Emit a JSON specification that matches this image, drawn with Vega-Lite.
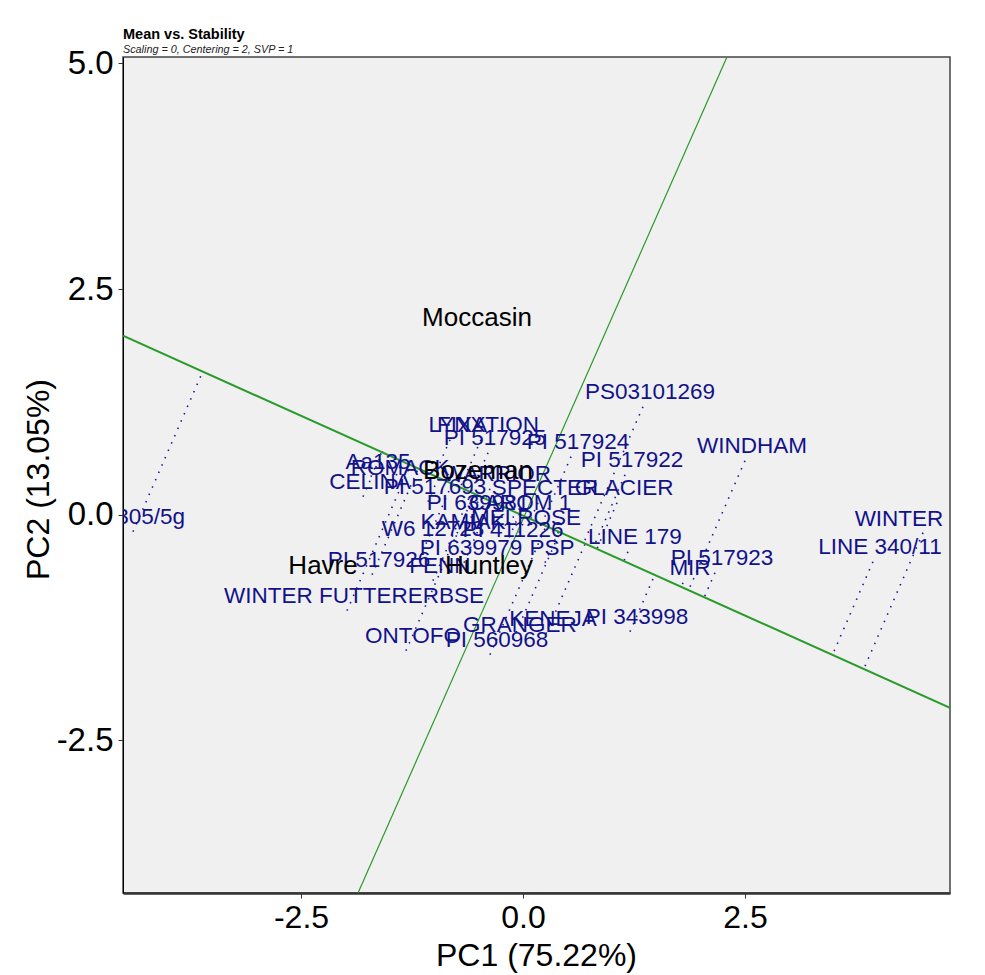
{
  "$schema": "https://vega.github.io/schema/vega-lite/v6.json",
  "autosize": {"type": "none"},
  "width": 827,
  "height": 836,
  "padding": {"left": 123, "top": 57, "right": 35, "bottom": 82},
  "background": "white",
  "title": {
    "text": "Mean vs. Stability",
    "subtitle": "Scaling = 0, Centering = 2, SVP = 1",
    "anchor": "start",
    "frame": "group",
    "font": "Liberation Sans",
    "fontSize": 14.5,
    "fontWeight": "bold",
    "color": "black",
    "subtitleFont": "Liberation Sans",
    "subtitleFontSize": 10.8,
    "subtitleFontStyle": "italic",
    "subtitleColor": "#222",
    "subtitlePadding": 1,
    "offset": -8
  },
  "config": {
    "view": {"fill": "#F0F0F0", "stroke": "#444", "strokeWidth": 1.5},
    "font": "Liberation Sans"
  },
  "datasets": {
    "genotypes": [
      {"name": "PS03101269", "x": 1.351, "y": 1.196, "xa": 0.687, "ya": -0.304},
      {"name": "WINDHAM", "x": 2.5, "y": 0.598, "xa": 1.869, "ya": -0.827},
      {"name": "PI 517922", "x": 1.149, "y": 0.443, "xa": 0.797, "ya": -0.353},
      {"name": "PI 517924", "x": 0.541, "y": 0.643, "xa": 0.214, "ya": -0.095},
      {"name": "GLACIER", "x": 1.059, "y": 0.133, "xa": 0.836, "ya": -0.37},
      {"name": "LINE 179", "x": 1.182, "y": -0.41, "xa": 1.14, "ya": -0.505},
      {"name": "PI 517923", "x": 2.162, "y": -0.643, "xa": 2.046, "ya": -0.905},
      {"name": "MIR", "x": 1.802, "y": -0.753, "xa": 1.786, "ya": -0.79},
      {"name": "WINTER", "x": 4.505, "y": -0.199, "xa": 3.842, "ya": -1.7},
      {"name": "LINE 340/11", "x": 3.941, "y": -0.521, "xa": 3.489, "ya": -1.544},
      {"name": "PI 343998", "x": 1.205, "y": -1.296, "xa": 1.487, "ya": -0.658},
      {"name": "KENEJA", "x": 0.259, "y": -1.318, "xa": 0.704, "ya": -0.312},
      {"name": "GRANGER", "x": -0.113, "y": -1.385, "xa": 0.418, "ya": -0.185},
      {"name": "PI 560968", "x": -0.372, "y": -1.551, "xa": 0.263, "ya": -0.117},
      {"name": "ONTOFO", "x": -1.318, "y": -1.507, "xa": -0.544, "ya": 0.241},
      {"name": "WINTER FUTTERERBSE", "x": -1.982, "y": -1.063, "xa": -1.264, "ya": 0.56},
      {"name": "PI 517926", "x": -1.7, "y": -0.665, "xa": -1.176, "ya": 0.52},
      {"name": "FENN", "x": -1.014, "y": -0.731, "xa": -0.577, "ya": 0.255},
      {"name": "PI 639979", "x": -0.664, "y": -0.532, "xa": -0.358, "ya": 0.159},
      {"name": "PSP", "x": 0.248, "y": -0.532, "xa": 0.404, "ya": -0.179},
      {"name": "W305/5g", "x": -4.392, "y": -0.188, "xa": -3.603, "ya": 1.595},
      {"name": "LYNX", "x": -0.822, "y": 0.831, "xa": -0.995, "ya": 0.44},
      {"name": "FIXATION", "x": -0.473, "y": 0.831, "xa": -0.703, "ya": 0.311},
      {"name": "PI 517925", "x": -0.394, "y": 0.687, "xa": -0.584, "ya": 0.258},
      {"name": "Aa135", "x": -1.712, "y": 0.421, "xa": -1.588, "ya": 0.703},
      {"name": "ROMACK", "x": -1.464, "y": 0.354, "xa": -1.355, "ya": 0.6},
      {"name": "CELINA", "x": -1.802, "y": 0.199, "xa": -1.581, "ya": 0.7},
      {"name": "PI 517693", "x": -1.07, "y": 0.144, "xa": -0.948, "ya": 0.42},
      {"name": "SPECTER", "x": 0.169, "y": 0.133, "xa": 0.092, "ya": -0.041},
      {"name": "WARRIOR", "x": -0.372, "y": 0.288, "xa": -0.418, "ya": 0.185},
      {"name": "PI 639981", "x": -0.586, "y": -0.033, "xa": -0.478, "ya": 0.211},
      {"name": "CAROM 1", "x": -0.113, "y": -0.033, "xa": -0.082, "ya": 0.036},
      {"name": "MELROSE", "x": -0.045, "y": -0.199, "xa": 0.036, "ya": -0.016},
      {"name": "W6 12723", "x": -1.092, "y": -0.321, "xa": -0.795, "ya": 0.352},
      {"name": "KAMIAK", "x": -0.755, "y": -0.244, "xa": -0.541, "ya": 0.239},
      {"name": "PI 411226", "x": -0.191, "y": -0.332, "xa": -0.037, "ya": 0.016}
    ],
    "environments": [
      {"name": "Moccasin", "x": -0.518, "y": 2.182},
      {"name": "Bozeman", "x": -0.507, "y": 0.487},
      {"name": "Havre", "x": -2.252, "y": -0.565},
      {"name": "Huntley", "x": -0.383, "y": -0.565}
    ],
    "axes": [
      {"line": "AEA", "x": -4.505, "y": 1.983},
      {"line": "AEA", "x": 4.809, "y": -2.138},
      {"line": "ordinate", "x": -1.858, "y": -4.19},
      {"line": "ordinate", "x": 2.297, "y": 5.07}
    ]
  },
  "encoding": {
    "x": {
      "field": "x", "type": "quantitative",
      "scale": {"domain": [-4.505, 4.809], "nice": false, "zero": false},
      "axis": {
        "title": "PC1 (75.22%)", "values": [-2.5, 0, 2.5], "format": ".1f",
        "labelExpr": "replace(datum.label, '\u2212', '-')",
        "grid": false, "domainColor": "#333", "domainWidth": 2.5,
        "tickColor": "#333", "tickSize": 5, "labelPadding": 4,
        "labelFontSize": 32, "labelColor": "black", "labelFont": "Liberation Sans",
        "titleFontSize": 32, "titleFontWeight": "normal", "titleColor": "black", "titleFont": "Liberation Sans",
        "titleX": 413, "titleY": 62, "titleBaseline": "middle", "titleAlign": "center"
      }
    },
    "y": {
      "field": "y", "type": "quantitative",
      "scale": {"domain": [-4.19, 5.07], "nice": false, "zero": false},
      "axis": {
        "title": "PC2 (13.05%)", "values": [-2.5, 0, 2.5, 5], "format": ".1f",
        "labelExpr": "replace(datum.label, '\u2212', '-')",
        "grid": false, "domainColor": "black", "domainWidth": 1,
        "tickColor": "#333", "tickSize": 5, "labelPadding": 5,
        "labelFontSize": 33, "labelColor": "black", "labelFont": "Liberation Sans",
        "titleFontSize": 32, "titleFontWeight": "normal", "titleColor": "black", "titleFont": "Liberation Sans",
        "titleX": -85, "titleY": 422, "titleAngle": -90, "titleBaseline": "middle", "titleAlign": "center"
      }
    }
  },
  "layer": [
    {
      "mark": {"type": "rule", "color": "#333", "strokeWidth": 1},
      "encoding": {"x": {"datum": 0}, "y": null}
    },
    {
      "mark": {"type": "rule", "color": "#333", "strokeWidth": 1},
      "encoding": {"y": {"datum": 0}, "x": null}
    },
    {
      "data": {"name": "genotypes"},
      "mark": {"type": "rule", "color": "#1a1aa0", "strokeWidth": 1.6, "strokeDash": [1.5, 6.5], "clip": true},
      "encoding": {
        "x2": {"field": "xa"},
        "y2": {"field": "ya"}
      }
    },
    {
      "data": {"name": "axes"},
      "transform": [{"filter": "datum.line === 'AEA'"}],
      "mark": {"type": "line", "color": "#2a9a2a", "strokeWidth": 2, "clip": true},
      "encoding": {"order": {"field": "x"}}
    },
    {
      "data": {"name": "axes"},
      "transform": [{"filter": "datum.line === 'ordinate'"}],
      "mark": {"type": "line", "color": "#2a9a2a", "strokeWidth": 1.2, "clip": true},
      "encoding": {"order": {"field": "x"}}
    },
    {
      "data": {"name": "genotypes"},
      "transform": [{"filter": "datum.name !== 'WINTER'"}],
      "mark": {"type": "text", "color": "#12128a", "fontSize": 22.5, "font": "Liberation Sans", "align": "center", "baseline": "middle", "dx": 7, "dy": -15, "clip": true},
      "encoding": {"text": {"field": "name"}}
    },
    {
      "data": {"name": "genotypes"},
      "transform": [{"filter": "datum.name === 'WINTER'"}],
      "mark": {"type": "text", "color": "#12128a", "fontSize": 22.5, "font": "Liberation Sans", "align": "center", "baseline": "middle", "dx": -24, "dy": -14, "clip": true},
      "encoding": {"text": {"field": "name"}}
    },
    {
      "data": {"name": "environments"},
      "mark": {"type": "text", "color": "black", "fontSize": 26, "font": "Liberation Sans", "align": "center", "baseline": "middle", "clip": true},
      "encoding": {"text": {"field": "name"}}
    }
  ]
}
